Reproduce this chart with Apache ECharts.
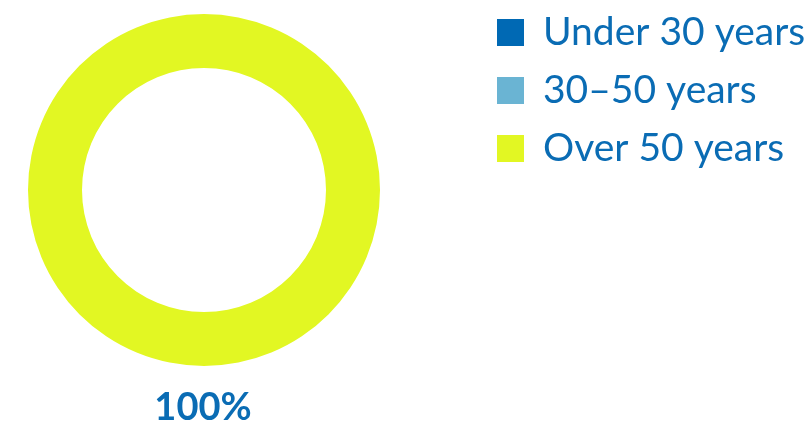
<!DOCTYPE html>
<html>
<head>
<meta charset="utf-8">
<script src="https://cdn.jsdelivr.net/npm/echarts@6/dist/echarts.min.js"></script>
<style>
  html, body { margin: 0; padding: 0; background: #ffffff; }
  #chart { width: 810px; height: 429px; }
</style>
</head>
<body>
<div id="chart"></div>
<script>
// Age groups and their share of the total (%)
const categories = ['Under 30 years', '30–50 years', 'Over 50 years'];
const shares = [0, 0, 100];
const colors = ['#0069b4', '#6ab4d3', '#e2f723'];

const textBlue = '#0a6cb4';
const fontFamily = 'Lato, "Open Sans", sans-serif';

const total = shares.reduce((a, b) => a + b, 0);
// The share of the largest group is written under the ring
const largest = Math.max(...shares);
const labelText = Math.round(largest / total * 100) + '%';

const chart = echarts.init(document.getElementById('chart'), null, { renderer: 'canvas' });
chart.setOption({
  animation: false,
  color: colors,
  title: {
    text: labelText,
    left: 198,
    top: 384,
    textAlign: 'center',
    textStyle: { color: textBlue, fontSize: 38, fontWeight: 'bold', fontFamily: fontFamily }
  },
  legend: {
    orient: 'vertical',
    left: 492,
    top: 8,
    itemWidth: 27,
    itemHeight: 27,
    itemGap: 19,
    icon: 'rect',
    selectedMode: false,
    textStyle: { color: textBlue, fontSize: 39, fontFamily: fontFamily, padding: [0, 0, 0, 14] },
    data: categories
  },
  series: [{
    type: 'pie',
    center: [204, 190],
    radius: [122, 176],
    silent: true,
    label: { show: false },
    labelLine: { show: false },
    itemStyle: { borderWidth: 0 },
    data: categories.map((name, i) => ({ name: name, value: shares[i] }))
  }]
});
</script>
</body>
</html>
